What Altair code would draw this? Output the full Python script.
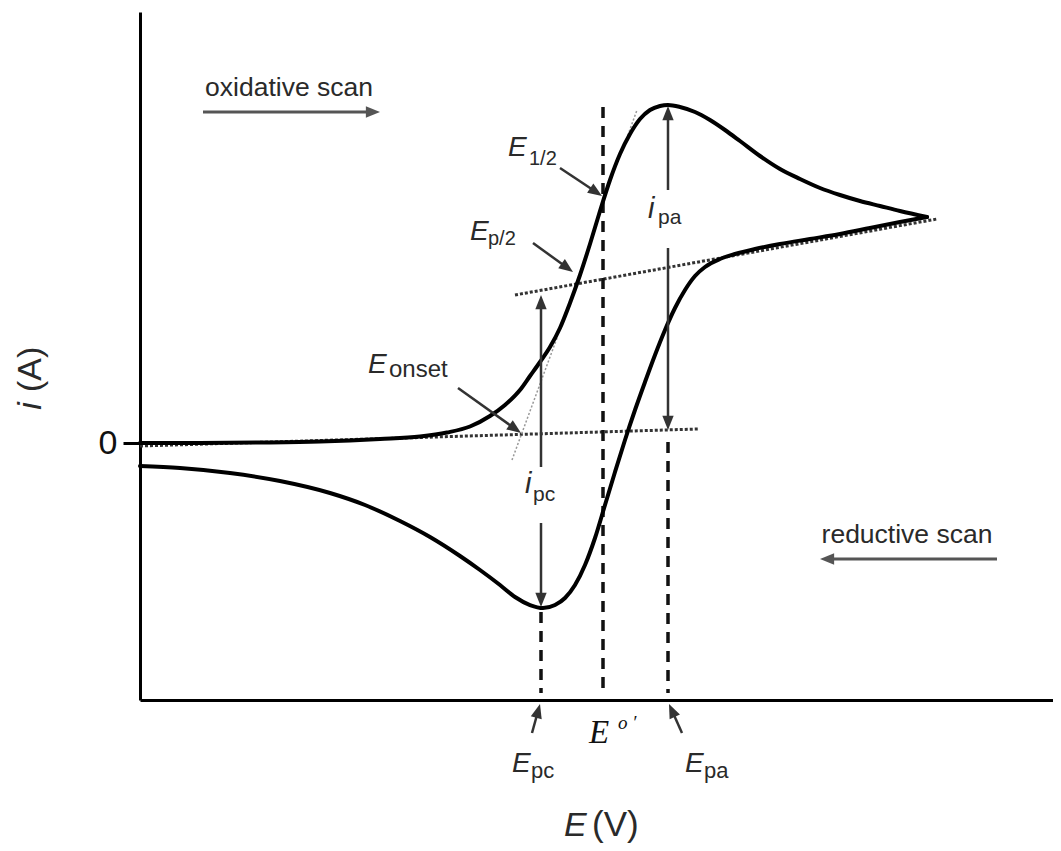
import altair as alt
import pandas as pd
import numpy as np

# ---------------- data (arbitrary units) -------------
# oxidative (forward) branch of the voltammogram
fwd_E = [0, 6, 12, 18, 24, 28, 30.7, 33, 35, 36.5, 38, 39, 40, 41, 42, 43, 44, 45, 46, 47, 48, 49,
         50, 51, 52, 52.8, 54, 55.5, 57, 58.5, 60, 62, 64, 66, 68, 70, 72, 74, 76, 78.7]
fwd_i = [0, 0, 0.05, 0.15, 0.4, 0.65, 1.05, 1.65, 2.7, 3.8, 5.3, 6.7, 8.1, 9.6, 11.5, 14.0, 16.8,
         19.9, 23.2, 26.3, 28.9, 30.9, 32.4, 33.3, 33.7, 33.8, 33.6, 33.1, 32.3, 31.3, 30.2, 28.7,
         27.4, 26.4, 25.5, 24.8, 24.2, 23.7, 23.2, 22.6]
# reductive (return) branch
rev_E = [78.7, 76, 73, 70, 67, 64, 61.5, 59.5, 58, 56.5, 55.5, 54.5, 53.5, 52.5, 51.5, 50.5, 49.5,
         48.5, 47.5, 46.5, 45.5, 44.5, 43.5, 42.5, 41.5, 40.3, 39, 37.5, 36, 34, 32, 29, 26, 22.5,
         19, 14, 9, 4, 0]
rev_i = [22.6, 22.1, 21.5, 20.9, 20.4, 19.9, 19.4, 18.9, 18.4, 17.6, 16.7, 15.3, 13.5, 11.3, 8.8,
         6.1, 3.3, 0.3, -2.9, -6.2, -9.5, -12.2, -14.2, -15.5, -16.2, -16.5, -16.2, -15.4, -14.2,
         -12.7, -11.3, -9.4, -7.8, -6.2, -5.0, -3.8, -3.0, -2.5, -2.3]

# dotted baselines
dot_E1 = [0, 37.5]
dot_i1 = [-0.3, 14.8]
dot_E2 = [55.8, 79.7]
dot_i2 = [1.4, 22.4]

# faint tangent lines
tan_E1 = [37.2, 48.5]
tan_i1 = [-1.7, 30.0]
tan_E2 = [41.7, 49.7]
tan_i2 = [10.5, 33.3]

# dashed verticals (E_pc, E0', E_pa)
vl_E = [40.1, 46.3, 52.8]
vl_top = [-16.9, 33.6, 0.1]
vl_bot = [-25.0, -25.0, -25.0]

# arrows: tail -> tip
ar_E0 = [52.8, 52.8, 40.1, 40.1, 42.0, 39.3, 31.8, 39.2, 54.2, 6.3, 85.7]
ar_i0 = [25.3, 19.5, -2.4, -8.0, 27.5, 20.0, 5.5, -29.0, -29.0, 33.1, -11.6]
ar_E1 = [52.8, 52.8, 40.1, 40.1, 46.2, 43.3, 38.1, 40.0, 52.9, 24.0, 68.0]
ar_i1 = [33.7, 1.3, 14.8, -16.4, 24.7, 17.1, 1.0, -26.1, -26.1, 33.1, -11.6]
ar_col = ["#333333"] * 9 + ["#555555", "#555555"]
ar_w = [2.5] * 9 + [3.2, 3.2]

# labels
it_text = ["E", "E", "E", "i", "i", "E", "E", "E"]
it_E = [36.8, 33.0, 22.8, 50.8, 38.5, 37.2, 54.5, 42.4]
it_i = [28.7, 20.3, 7.0, 22.5, -5.0, -32.9, -32.9, -39.3]
it_size = [28, 28, 28, 29, 29, 28, 28, 34]

sub_text = ["1/2", "p/2", "onset", "pa", "pc", "pc", "pa", "(V)"]
sub_E = [38.9, 34.8, 24.9, 51.8, 39.3, 39.1, 56.4, 45.2]
sub_i = [27.8, 19.8, 6.6, 21.9, -5.8, -33.5, -33.5, -39.3]
sub_size = [20, 20, 24, 21, 21, 22, 22, 35]

serif_text = ["E", "o \u2032"]
serif_E = [44.9, 47.8]
serif_i = [-30.0, -28.6]
serif_size = [33, 19]

scan_text = ["oxidative scan", "reductive scan"]
scan_E = [14.9, 76.7]
scan_i = [35.5, -9.2]

# ---------------- scales/axes -------------
XS = alt.Scale(domain=[0, 91.3], nice=False, zero=False)
YS = alt.Scale(domain=[-25.7, 43.1], nice=False, zero=False)
XAX = alt.Axis(title=None, labels=False, ticks=False, grid=False, domainWidth=3, domainColor="#000")
YAX = alt.Axis(title=None, values=[0], tickSize=17, tickWidth=3, tickColor="#000",
               labelFontSize=34, labelFont="Liberation Sans", labelColor="#111",
               labelPadding=6, grid=False, domainWidth=3, domainColor="#000")


def X(f):
    return alt.X(f, type="quantitative", scale=XS, axis=XAX)


def Y(f):
    return alt.Y(f, type="quantitative", scale=YS, axis=YAX)


curve = pd.concat([
    pd.DataFrame({"E": fwd_E, "i": fwd_i, "b": "ox"}),
    pd.DataFrame({"E": rev_E, "i": rev_i, "b": "red"}),
], ignore_index=True)

dots = pd.DataFrame({"E": dot_E1, "i": dot_i1, "E2": dot_E2, "i2": dot_i2})
tans = pd.DataFrame({"E": tan_E1, "i": tan_i1, "E2": tan_E2, "i2": tan_i2})
vls = pd.DataFrame({"E": vl_E, "i": vl_top, "i2": vl_bot})

arr = pd.DataFrame({"E0": ar_E0, "i0": ar_i0, "E1": ar_E1, "i1": ar_i1, "col": ar_col, "w": ar_w})
dE = arr["E1"] - arr["E0"]
di = arr["i1"] - arr["i0"]
L = np.sqrt(dE ** 2 + di ** 2)
arr["Es"] = arr["E1"] - dE / L * 0.8
arr["is"] = arr["i1"] - di / L * 0.8
arr["ang"] = (np.degrees(np.arctan2(dE, di)) + 360) % 360

it = pd.DataFrame({"t": it_text, "E": it_E, "i": it_i, "s": it_size})
sub = pd.DataFrame({"t": sub_text, "E": sub_E, "i": sub_i, "s": sub_size})
ser = pd.DataFrame({"t": serif_text, "E": serif_E, "i": serif_i, "s": serif_size})
scn = pd.DataFrame({"t": scan_text, "E": scan_E, "i": scan_i})
ytl_i = pd.DataFrame({"t": ["i"], "E": [-10.9], "i": [3.7]})
ytl_a = pd.DataFrame({"t": ["(A)"], "E": [-10.9], "i": [5.1]})

curve_l = alt.Chart(curve).mark_line(color="#000", strokeWidth=4, interpolate="monotone",
                                     strokeCap="round").encode(
    x=X("E"), y=Y("i"), detail="b:N")

dots_l = alt.Chart(dots).mark_rule(color="#333", strokeWidth=3, strokeDash=[3, 2]).encode(
    x=X("E"), y=Y("i"), x2="E2:Q", y2="i2:Q")

tans_l = alt.Chart(tans).mark_rule(color="#999", strokeWidth=1.5, strokeDash=[2, 2]).encode(
    x=X("E"), y=Y("i"), x2="E2:Q", y2="i2:Q")

vls_l = alt.Chart(vls).mark_rule(color="#111", strokeWidth=3.5, strokeDash=[11, 8]).encode(
    x=X("E"), y=Y("i"), y2="i2:Q")

shaft_l = alt.Chart(arr).mark_rule().encode(
    x=X("E0"), y=Y("i0"), x2="Es:Q", y2="is:Q",
    color=alt.Color("col:N", scale=None), strokeWidth=alt.StrokeWidth("w:Q", scale=None))

head_l = alt.Chart(arr).mark_point(shape="M0,0L0.4,1L-0.4,1Z", size=800, filled=True,
                                   opacity=1, strokeWidth=0).encode(
    x=X("E1"), y=Y("i1"), angle=alt.Angle("ang:Q", scale=None),
    color=alt.Color("col:N", scale=None))

it_l = alt.Chart(it).mark_text(font="Liberation Sans", fontStyle="italic", align="left",
                               baseline="alphabetic", color="#2a2a2a").encode(
    x=X("E"), y=Y("i"), text="t:N", size=alt.Size("s:Q", scale=None))

sub_l = alt.Chart(sub).mark_text(font="Liberation Sans", align="left",
                                 baseline="alphabetic", color="#2a2a2a").encode(
    x=X("E"), y=Y("i"), text="t:N", size=alt.Size("s:Q", scale=None))

ser_l = alt.Chart(ser).mark_text(font="Liberation Serif", fontStyle="italic", align="left",
                                 baseline="alphabetic", color="#111").encode(
    x=X("E"), y=Y("i"), text="t:N", size=alt.Size("s:Q", scale=None))

scn_l = alt.Chart(scn).mark_text(font="Liberation Sans", fontSize=26.5, align="center",
                                 baseline="middle", color="#2a2a2a").encode(
    x=X("E"), y=Y("i"), text="t:N")

ytl_i_l = alt.Chart(ytl_i).mark_text(font="Liberation Sans", fontStyle="italic", fontSize=34,
                                     angle=270, align="center", baseline="middle",
                                     color="#2a2a2a").encode(x=X("E"), y=Y("i"), text="t:N")
ytl_a_l = alt.Chart(ytl_a).mark_text(font="Liberation Sans", fontSize=34,
                                     angle=270, align="left", baseline="middle",
                                     color="#2a2a2a").encode(x=X("E"), y=Y("i"), text="t:N")

chart = alt.layer(
    dots_l, tans_l, vls_l, curve_l, shaft_l, head_l, it_l, sub_l, ser_l, scn_l, ytl_i_l, ytl_a_l
).properties(
    width=913, height=688,
    autosize=alt.AutoSizeParams(type="none"),
    padding={"left": 132, "top": 4, "right": 0, "bottom": 143},
    background="white",
).configure_view(stroke=None)

chart.save("out.html", embed_options={"renderer": "svg", "actions": False})
